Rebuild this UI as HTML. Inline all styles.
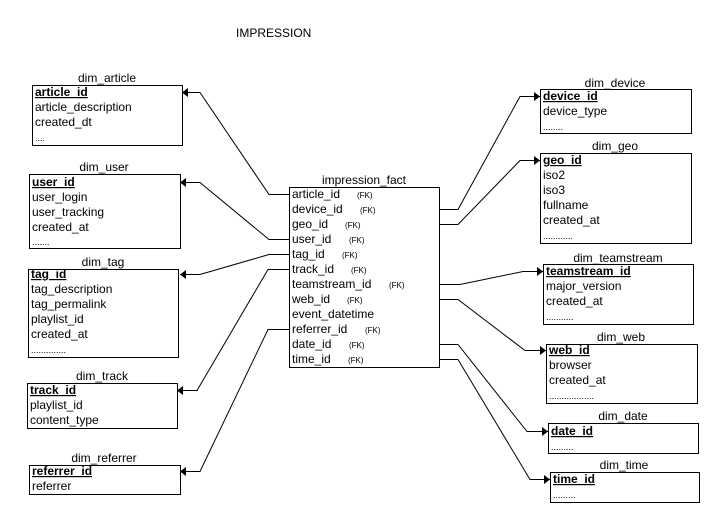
<!DOCTYPE html>
<html><head><meta charset="utf-8"><style>
html,body{margin:0;padding:0;background:#fff;}
svg{display:block;font-family:"Liberation Sans",Arial,sans-serif;}
text{font-size:12px;fill:#000;}
.t{text-anchor:middle;}
.b{font-weight:bold;text-decoration:underline;}
.fk{font-size:8px;}
.d{font-size:9px;}
rect{fill:#fff;stroke:#000;stroke-width:1;}
polyline{fill:none;stroke:#000;stroke-width:1;}
</style></head><body>
<svg width="725" height="528" viewBox="0 0 725 528">
<text x="236" y="37">IMPRESSION</text>

<!-- connectors -->
<polyline points="289,194.5 269,194.5 200,92.5 182,92.5"/>
<polyline points="289,239.5 269,239.5 200,182.5 180,182.5"/>
<polyline points="289,254.5 269,254.5 200,274.5 180,274.5"/>
<polyline points="289,269.5 268,269.5 197,390.5 177,390.5"/>
<polyline points="289,329.5 268,329.5 200,471.5 180,471.5"/>
<polyline points="439,209.5 458,209.5 520,96.5 540,96.5"/>
<polyline points="439,224.5 458,224.5 520,160.5 540,160.5"/>
<polyline points="439,284.5 460,284.5 523,271.5 543,271.5"/>
<polyline points="439,299.5 458,299.5 525,350.5 546,350.5"/>
<polyline points="439,344.5 458,344.5 527,431.5 548,431.5"/>
<polyline points="439,359.5 458,359.5 530,479.5 550,479.5"/>
<!-- arrowheads -->
<g fill="#000">
<polygon points="182,92.5 188,88 188,97"/>
<polygon points="180,182.5 186,178 186,187"/>
<polygon points="180,274.5 186,270 186,279"/>
<polygon points="177,390.5 183,386 183,395"/>
<polygon points="180,471.5 186,467 186,476"/>
<polygon points="540,96.5 534,92 534,101"/>
<polygon points="540,160.5 534,156 534,165"/>
<polygon points="543,271.5 537,267 537,276"/>
<polygon points="546,350.5 540,346 540,355"/>
<polygon points="548,431.5 542,427 542,436"/>
<polygon points="550,479.5 544,475 544,484"/>
</g>

<!-- fact -->
<text class="t" x="364" y="184">impression_fact</text>
<rect x="289.5" y="187.5" width="150" height="180"/>
<g>
<text x="292" y="198">article_id</text><text class="fk" x="357" y="198">(FK)</text>
<text x="292" y="213">device_id</text><text class="fk" x="360" y="213">(FK)</text>
<text x="292" y="228">geo_id</text><text class="fk" x="345" y="228">(FK)</text>
<text x="292" y="243">user_id</text><text class="fk" x="349" y="243">(FK)</text>
<text x="292" y="258">tag_id</text><text class="fk" x="342" y="258">(FK)</text>
<text x="292" y="273">track_id</text><text class="fk" x="351" y="273">(FK)</text>
<text x="292" y="288">teamstream_id</text><text class="fk" x="389" y="288">(FK)</text>
<text x="292" y="303">web_id</text><text class="fk" x="347" y="303">(FK)</text>
<text x="292" y="318">event_datetime</text>
<text x="292" y="333">referrer_id</text><text class="fk" x="365" y="333">(FK)</text>
<text x="292" y="348">date_id</text><text class="fk" x="349" y="348">(FK)</text>
<text x="292" y="363">time_id</text><text class="fk" x="348" y="363">(FK)</text>
</g>

<!-- dim_article -->
<text class="t" x="107" y="82">dim_article</text>
<rect x="32.5" y="85.5" width="150" height="60"/>
<text class="b" x="35" y="96">article_id</text>
<text x="35" y="111">article_description</text>
<text x="35" y="126">created_dt</text>
<text class="d" x="35" y="141">....</text>

<!-- dim_user -->
<text class="t" x="104" y="171">dim_user</text>
<rect x="29.5" y="174.5" width="151" height="74"/>
<text class="b" x="32" y="186">user_id</text>
<text x="32" y="201">user_login</text>
<text x="32" y="216">user_tracking</text>
<text x="32" y="231">created_at</text>
<text class="d" x="32" y="245">.......</text>

<!-- dim_tag -->
<text class="t" x="103" y="266">dim_tag</text>
<rect x="28.5" y="269.5" width="150" height="88"/>
<text class="b" x="31" y="278">tag_id</text>
<text x="31" y="293">tag_description</text>
<text x="31" y="308">tag_permalink</text>
<text x="31" y="323">playlist_id</text>
<text x="31" y="338">created_at</text>
<text class="d" x="31" y="353">..............</text>

<!-- dim_track -->
<text class="t" x="102" y="380">dim_track</text>
<rect x="27.5" y="383.5" width="150" height="45"/>
<text class="b" x="30" y="394">track_id</text>
<text x="30" y="409">playlist_id</text>
<text x="30" y="424">content_type</text>

<!-- dim_referrer -->
<text class="t" x="104" y="462">dim_referrer</text>
<rect x="29.5" y="465.5" width="151" height="29"/>
<text class="b" x="32" y="475">referrer_id</text>
<text x="32" y="490">referrer</text>

<!-- dim_device -->
<text class="t" x="615" y="87">dim_device</text>
<rect x="540.5" y="89.5" width="151" height="44"/>
<text class="b" x="543" y="100">device_id</text>
<text x="543" y="115">device_type</text>
<text class="d" x="543" y="130">........</text>

<!-- dim_geo -->
<text class="t" x="615" y="150">dim_geo</text>
<rect x="540.5" y="153.5" width="151" height="90"/>
<text class="b" x="543" y="164">geo_id</text>
<text x="543" y="179">iso2</text>
<text x="543" y="194">iso3</text>
<text x="543" y="209">fullname</text>
<text x="543" y="224">created_at</text>
<text class="d" x="543" y="239">............</text>

<!-- dim_teamstream -->
<text class="t" x="618" y="262">dim_teamstream</text>
<rect x="543.5" y="264.5" width="150" height="60"/>
<text class="b" x="546" y="275">teamstream_id</text>
<text x="546" y="290">major_version</text>
<text x="546" y="305">created_at</text>
<text class="d" x="546" y="320">...........</text>

<!-- dim_web -->
<text class="t" x="621" y="341">dim_web</text>
<rect x="546.5" y="344.5" width="151" height="59"/>
<text class="b" x="549" y="354">web_id</text>
<text x="549" y="369">browser</text>
<text x="549" y="384">created_at</text>
<text class="d" x="549" y="399">..................</text>

<!-- dim_date -->
<text class="t" x="623" y="420">dim_date</text>
<rect x="548.5" y="423.5" width="150" height="30"/>
<text class="b" x="551" y="435">date_id</text>
<text class="d" x="551" y="450">.........</text>

<!-- dim_time -->
<text class="t" x="624" y="469">dim_time</text>
<rect x="550.5" y="472.5" width="149" height="30"/>
<text class="b" x="553" y="483">time_id</text>
<text class="d" x="553" y="498">.........</text>
</svg>
</body></html>
